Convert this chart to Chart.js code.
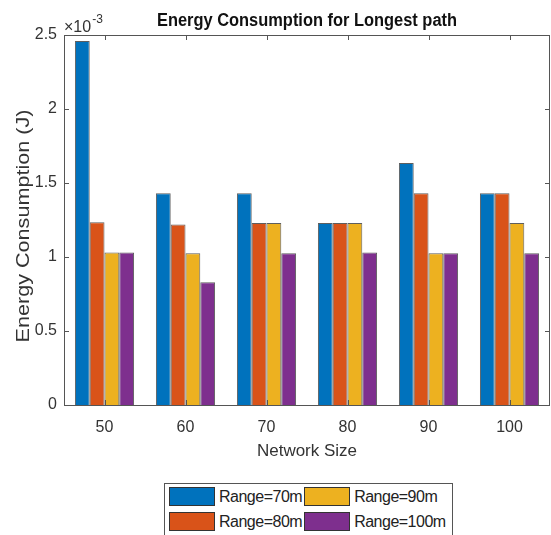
<!DOCTYPE html>
<html>
<head>
<meta charset="utf-8">
<script src="https://cdn.jsdelivr.net/npm/chart.js@4.4.1/dist/chart.umd.min.js"></script>
<style>
  html, body { margin: 0; padding: 0; background: #fff; }
  #wrap { position: relative; width: 551px; height: 535px; overflow: hidden; }
  #legend {
    position: absolute; left: 164px; top: 483px;
    border: 1px solid #555; background: #fff;
    display: grid; grid-template-columns: auto auto;
    padding: 3px 6px 6px 4px; column-gap: 2px; row-gap: 6px;
    font-family: "Liberation Sans", Arial, sans-serif; font-size: 16px; letter-spacing: -0.5px; color: #222;
  }
  #legend .item { display: flex; align-items: center; height: 19px; }
  #legend .swatch { width: 46px; height: 19px; border: 1px solid #333; margin-right: 4px; box-sizing: border-box; }
</style>
</head>
<body>
<div id="wrap">
  <canvas id="energy" width="551" height="535"></canvas>
  <div id="legend"></div>
</div>
<script>
  // values are in units of 1e-3 J
  const networkSizes = ['50', '60', '70', '80', '90', '100'];
  const range70 = [2.46, 1.43, 1.43, 1.23, 1.635, 1.43];
  const range80 = [1.235, 1.22, 1.23, 1.23, 1.43, 1.43];
  const range90 = [1.03, 1.025, 1.23, 1.23, 1.025, 1.23];
  const range100 = [1.03, 0.83, 1.025, 1.03, 1.025, 1.025];
  const yTicks = [0, 0.5, 1, 1.5, 2, 2.5];

  const fontFamily = '"Liberation Sans", Arial, sans-serif';
  const axisColor = '#333';
  const chartTitle = 'Energy Consumption for Longest path';
  const yTitle = 'Energy Consumption (J)';

  // draws text squeezed or stretched along its run to a given length
  function fitText(ctx, text, x, y, length, angle) {
    const w = ctx.measureText(text).width;
    ctx.save();
    ctx.translate(x, y);
    ctx.rotate(angle);
    ctx.scale(length / w, 1);
    ctx.fillText(text, 0, 0);
    ctx.restore();
  }

  // box around the plot with inward tick marks, the titles and the x10^-3 exponent
  const boxAxes = {
    id: 'boxAxes',
    afterDraw(chart) {
      const { ctx, chartArea: a, scales } = chart;
      ctx.save();
      ctx.strokeStyle = '#555';
      ctx.lineWidth = 1;
      ctx.strokeRect(Math.round(a.left) + 0.5, Math.round(a.top) + 0.5,
        Math.round(a.right - a.left) - 1, Math.round(a.bottom - a.top));
      const len = 5;
      ctx.beginPath();
      scales.x.ticks.forEach((t, i) => {
        const x = Math.round(scales.x.getPixelForTick(i)) + 0.5;
        ctx.moveTo(x, a.bottom); ctx.lineTo(x, a.bottom - len);
        ctx.moveTo(x, a.top); ctx.lineTo(x, a.top + len);
      });
      scales.y.ticks.forEach((t, i) => {
        const y = Math.round(scales.y.getPixelForTick(i)) + 0.5;
        ctx.moveTo(a.left, y); ctx.lineTo(a.left + len, y);
        ctx.moveTo(a.right, y); ctx.lineTo(a.right - len, y);
      });
      ctx.stroke();

      ctx.fillStyle = '#111';
      ctx.textAlign = 'center';
      ctx.textBaseline = 'alphabetic';
      ctx.font = 'bold 18px ' + fontFamily;
      fitText(ctx, chartTitle, (a.left + a.right) / 2, 26, 300, 0);

      ctx.fillStyle = axisColor;
      ctx.textBaseline = 'middle';
      ctx.font = '18px ' + fontFamily;
      fitText(ctx, yTitle, 24, (a.top + a.bottom) / 2 + 6, 233, -Math.PI / 2);

      ctx.textBaseline = 'alphabetic';
      ctx.textAlign = 'left';
      ctx.font = '16px ' + fontFamily;
      ctx.fillText('\u00d710', a.left, a.top - 3);
      const w = ctx.measureText('\u00d710').width;
      ctx.font = '12px ' + fontFamily;
      ctx.fillText('-3', a.left + w + 1, a.top - 12);
      ctx.restore();
    }
  };

  const colors = ['#0072BD', '#D95319', '#EDB120', '#7E2F8E'];
  const series = [
    { label: 'Range=70m', data: range70 },
    { label: 'Range=80m', data: range80 },
    { label: 'Range=90m', data: range90 },
    { label: 'Range=100m', data: range100 }
  ];

  const energyChart = new Chart(document.getElementById('energy').getContext('2d'), {
    type: 'bar',
    data: {
      labels: networkSizes,
      datasets: series.map((s, i) => ({
        label: s.label,
        data: s.data,
        backgroundColor: colors[i],
        borderColor: 'rgba(40, 40, 40, 0.75)',
        borderWidth: 1,
        categoryPercentage: 0.73,
        barPercentage: 1.0
      }))
    },
    options: {
      responsive: false,
      animation: false,
      layout: { padding: { left: 0, right: 1, top: 35, bottom: 70 } },
      plugins: {
        legend: { display: false },
        tooltip: { enabled: false }
      },
      scales: {
        x: {
          grid: { display: false, drawTicks: false },
          border: { display: false },
          ticks: { color: axisColor, font: { family: fontFamily, size: 16 }, padding: 13 },
          title: {
            display: true, text: 'Network Size', color: axisColor,
            font: { family: fontFamily, size: 17 }, padding: { top: 0, bottom: 3 }
          },
          afterFit(scale) { scale.height = 60; }
        },
        y: {
          min: 0, max: 2.5,
          afterBuildTicks(scale) { scale.ticks = yTicks.map(v => ({ value: v })); },
          grid: { display: false, drawTicks: false },
          border: { display: false },
          ticks: {
            color: axisColor, font: { family: fontFamily, size: 16 }, padding: 7,
            callback: v => String(v)
          },
          afterFit(scale) { scale.width = 64; }
        }
      }
    },
    plugins: [boxAxes]
  });

  // legend in two columns: 70m / 90m on top, 80m / 100m below
  const legendDiv = document.getElementById('legend');
  [0, 2, 1, 3].forEach(i => {
    const ds = energyChart.data.datasets[i];
    const item = document.createElement('div');
    item.className = 'item';
    const sw = document.createElement('span');
    sw.className = 'swatch';
    sw.style.background = ds.backgroundColor;
    item.appendChild(sw);
    item.appendChild(document.createTextNode(ds.label));
    legendDiv.appendChild(item);
  });
</script>
</body>
</html>
